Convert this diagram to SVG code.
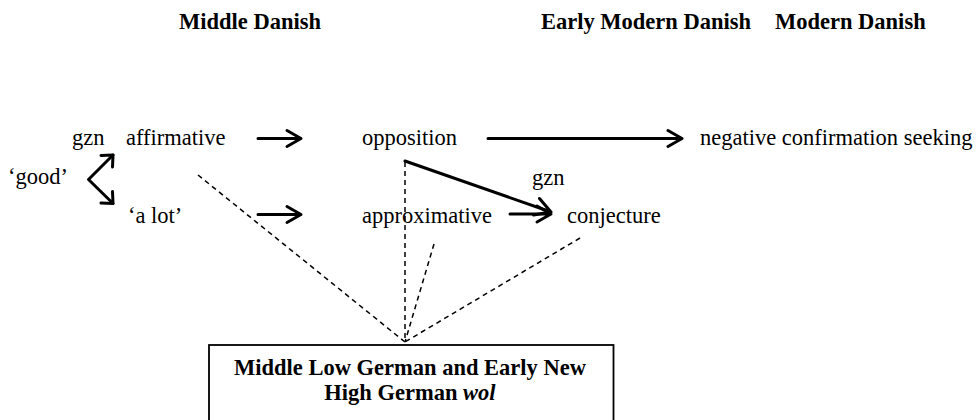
<svg xmlns="http://www.w3.org/2000/svg" width="979" height="420" viewBox="0 0 979 420">
<style>
text{font-family:"Liberation Serif","Tinos","Times New Roman","DejaVu Serif",serif;font-size:22.5px;fill:#000}
.h{font-weight:bold}
.a{fill:none;stroke:#000;stroke-width:3;stroke-linecap:round;stroke-linejoin:round}
.d{fill:none;stroke:#000;stroke-width:1.5;stroke-dasharray:5 4}
</style>
<rect width="979" height="420" fill="#fff"/>
<g id="headers">
<text class="h" x="179" y="29">Middle Danish</text>
<text class="h" x="541" y="29">Early Modern Danish</text>
<text class="h" x="775" y="29">Modern Danish</text>
</g>
<g id="good"><text x="8" y="184">‘good’</text></g>
<g id="gzn1"><text x="72" y="145">gzn</text></g>
<g id="affirmative"><text x="126" y="145">affirmative</text></g>
<g id="alot"><text x="128" y="223">‘a lot’</text></g>
<g id="opposition"><text x="362" y="145">opposition</text></g>
<g id="approximative"><text x="362" y="223">approximative</text></g>
<g id="gzn2"><text x="532" y="185">gzn</text></g>
<g id="conjecture"><text x="567" y="223">conjecture</text></g>
<g id="negconf"><text x="700" y="145">negative confirmation seeking</text></g>
<g id="wol">
<rect x="209" y="345" width="404.5" height="90" fill="#fff" stroke="#000" stroke-width="1.8"/>
<text class="h" x="410" y="375" text-anchor="middle">Middle Low German and Early New</text>
<text class="h" x="410" y="400" text-anchor="middle">High German <tspan font-style="italic">wol</tspan></text>
</g>
<g id="connectors">
<path class="a" d="M113 155 L88.5 179.5 L113 203.5"/>
<path class="a" d="M101 155.5 L113 155 L112.5 167 M101 203 L113 203.5 L112.5 191.5"/>
<path class="a" d="M258 138.5 H301 M287 130.5 L301 138.5 L287 146.5"/>
<path class="a" d="M258 214.5 H301 M287 206.5 L301 214.5 L287 222.5"/>
<path class="a" d="M488 138.5 H682 M668 130.5 L682 138.5 L668 146.5"/>
<path class="a" d="M510 214 H551 M537 206 L551 214 L537 222"/>
<path class="a" d="M405 161 L551 212 M539.5 198.5 L551 212 L533.5 215"/>
<path class="d" d="M405 162 V342"/>
<path class="d" d="M198 175 L405 342"/>
<path class="d" d="M434 244 L405 342"/>
<path class="d" d="M580 238 L405 342"/>
</g>
</svg>
